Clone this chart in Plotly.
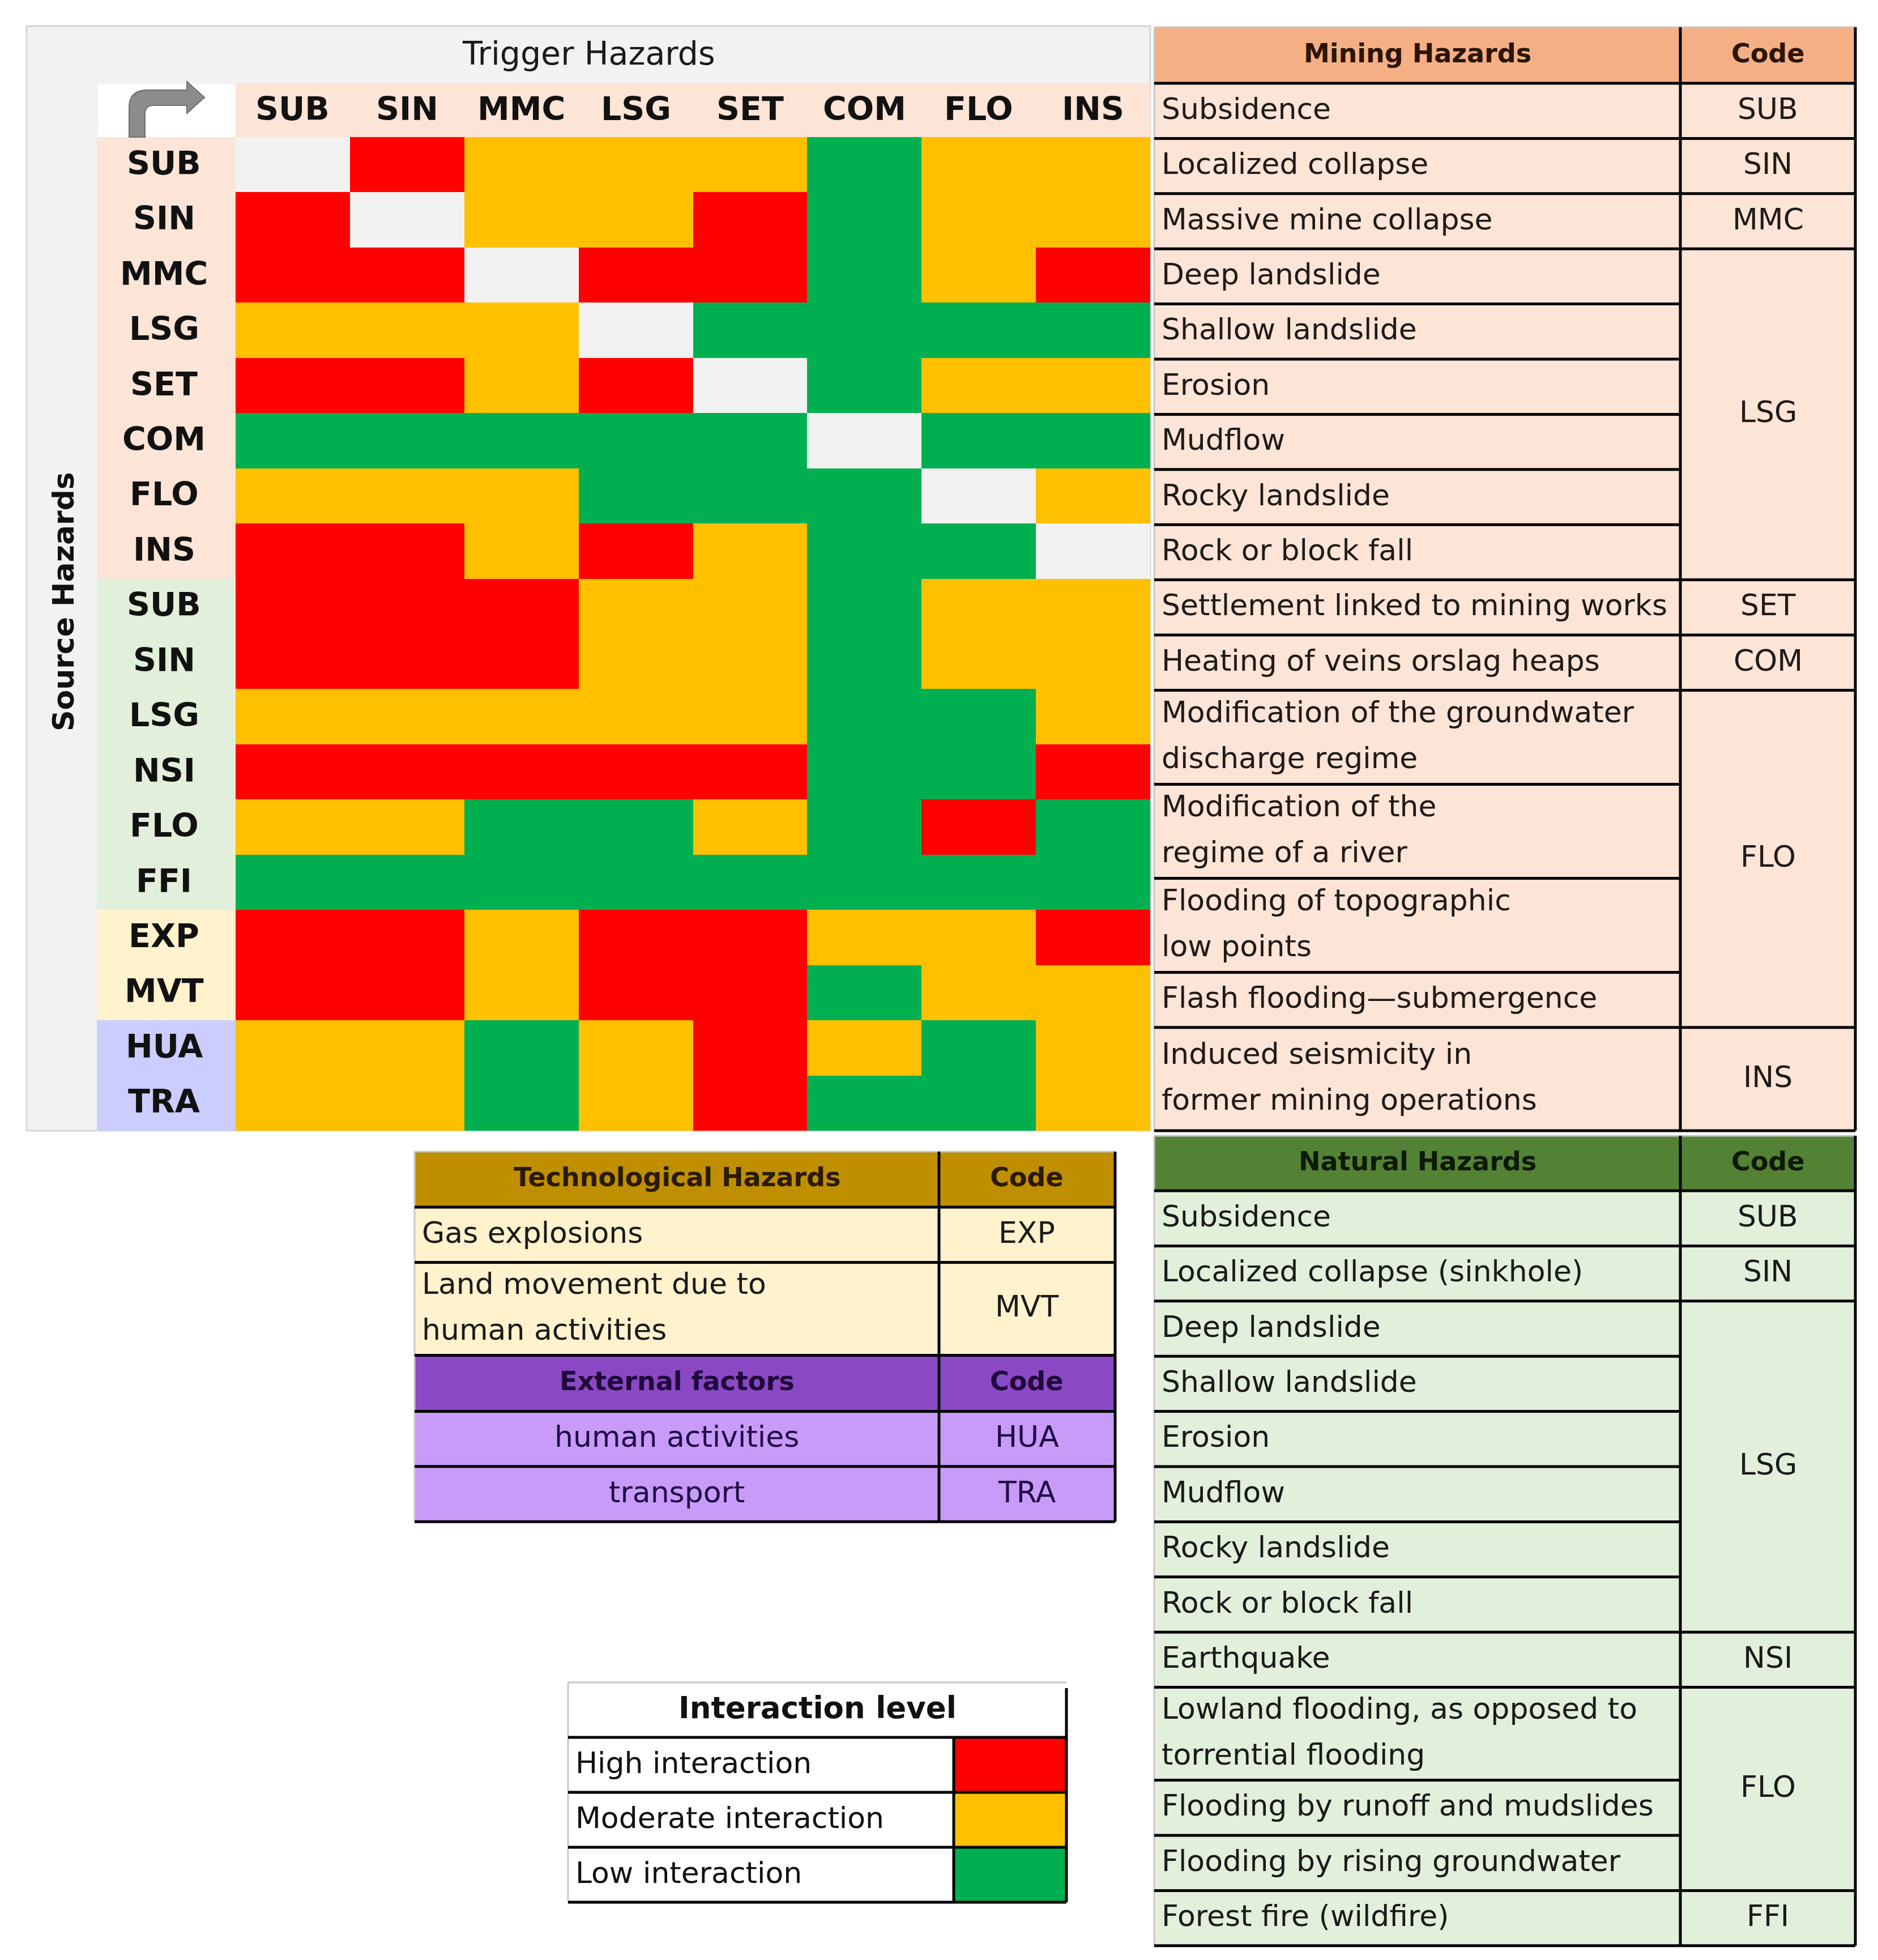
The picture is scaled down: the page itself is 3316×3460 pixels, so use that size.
import plotly.graph_objects as go

W, H = 3316, 3460
FONT = "DejaVu Sans"

# ---------------- data ----------------
trigger_codes = ["SUB", "SIN", "MMC", "LSG", "SET", "COM", "FLO", "INS"]

mining_sources = ["SUB", "SIN", "MMC", "LSG", "SET", "COM", "FLO", "INS"]
natural_sources = ["SUB", "SIN", "LSG", "NSI", "FLO", "FFI"]
technological_sources = ["EXP", "MVT"]
external_sources = ["HUA", "TRA"]

# 0 = same hazard (diagonal), 1 = low, 2 = moderate, 3 = high interaction
mining_levels = [
    [0, 3, 2, 2, 2, 1, 2, 2],
    [3, 0, 2, 2, 3, 1, 2, 2],
    [3, 3, 0, 3, 3, 1, 2, 3],
    [2, 2, 2, 0, 1, 1, 1, 1],
    [3, 3, 2, 3, 0, 1, 2, 2],
    [1, 1, 1, 1, 1, 0, 1, 1],
    [2, 2, 2, 1, 1, 1, 0, 2],
    [3, 3, 2, 3, 2, 1, 1, 0],
]
natural_levels = [
    [3, 3, 3, 2, 2, 1, 2, 2],
    [3, 3, 3, 2, 2, 1, 2, 2],
    [2, 2, 2, 2, 2, 1, 1, 2],
    [3, 3, 3, 3, 3, 1, 1, 3],
    [2, 2, 1, 1, 2, 1, 3, 1],
    [1, 1, 1, 1, 1, 1, 1, 1],
]
technological_levels = [
    [3, 3, 2, 3, 3, 2, 2, 3],
    [3, 3, 2, 3, 3, 1, 2, 2],
]
external_levels = [
    [2, 2, 1, 2, 3, 2, 1, 2],
    [2, 2, 1, 2, 3, 1, 1, 2],
]

level_colors = ["#F2F2F2", "#00B050", "#FFC000", "#FF0000"]
legend_labels = ["High interaction", "Moderate interaction", "Low interaction"]
legend_colors = ["#FF0000", "#FFC000", "#00B050"]

mining_hazards = [
    "Subsidence", "Localized collapse", "Massive mine collapse", "Deep landslide",
    "Shallow landslide", "Erosion", "Mudflow", "Rocky landslide", "Rock or block fall",
    "Settlement linked to mining works", "Heating of veins orslag heaps",
    "Modification of the groundwater\ndischarge regime",
    "Modification of the\nregime of a river",
    "Flooding of topographic\nlow points",
    "Flash flooding\u2014submergence",
    "Induced seismicity in\nformer mining operations",
]
mining_code_labels = ["SUB", "SIN", "MMC", "LSG", "SET", "COM", "FLO", "INS"]
mining_code_spans = [1, 1, 1, 6, 1, 1, 4, 1]

natural_hazards = [
    "Subsidence", "Localized collapse (sinkhole)", "Deep landslide", "Shallow landslide",
    "Erosion", "Mudflow", "Rocky landslide", "Rock or block fall", "Earthquake",
    "Lowland flooding, as opposed to\ntorrential flooding",
    "Flooding by runoff and mudslides", "Flooding by rising groundwater",
    "Forest fire (wildfire)",
]
natural_code_labels = ["SUB", "SIN", "LSG", "NSI", "FLO", "FFI"]
natural_code_spans = [1, 1, 6, 1, 3, 1]

technological_hazards = ["Gas explosions", "Land movement due to\nhuman activities"]
technological_code_labels = ["EXP", "MVT"]
technological_code_spans = [1, 1]

external_factors = ["human activities", "transport"]
external_code_labels = ["HUA", "TRA"]
external_code_spans = [1, 1]

source_groups = [mining_sources, natural_sources, technological_sources, external_sources]
group_band_colors = ["#FCE4D6", "#E2EFDA", "#FFF2CC", "#CCCCFF"]

# ---------------- helpers ----------------
def px(x):
    return x / W


def py(y):
    return 1 - y / H


fills, lights, darks, below = [], [], [], []
annotations = []
TEXT_LIFT = 4


def rect(lst, x0, y0, x1, y1, fill, layer="above"):
    lst.append(dict(type="rect", xref="paper", yref="paper",
                    x0=px(x0), x1=px(x1), y0=py(y1), y1=py(y0),
                    fillcolor=fill, line=dict(width=0), layer=layer))


def hline(lst, x0, x1, y, color="#000000", w=5):
    lst.append(dict(type="line", xref="paper", yref="paper",
                    x0=px(x0), x1=px(x1), y0=py(y), y1=py(y),
                    line=dict(color=color, width=w)))


def vline(lst, x, y0, y1, color="#000000", w=5):
    lst.append(dict(type="line", xref="paper", yref="paper",
                    x0=px(x), x1=px(x), y0=py(y0), y1=py(y1),
                    line=dict(color=color, width=w)))


def text(t, x, y, size, color="#1a1a1a", bold=False, anchor="center", angle=0):
    annotations.append(dict(text=t, xref="paper", yref="paper", x=px(x), y=py(y - TEXT_LIFT),
                            xanchor=anchor, yanchor="middle", showarrow=False,
                            textangle=angle,
                            font=dict(family=FONT, size=size, color=color,
                                      weight="bold" if bold else "normal")))


BODY = 52
HEAD = 46
LINE_GAP = 81
PAD = 11
LIGHT = "#C8C8C8"


def draw_table(x0, xd, x1, top, header_h, header_label, header_fill, header_color,
               names, code_labels, code_spans, body_fill, text_color,
               single_h, double_h, bottom=None, center_names=False, top_border=True):
    hb = top + header_h
    heights = [double_h if "\n" in nm else single_h for nm in names]
    bounds = [hb]
    for h in heights:
        bounds.append(bounds[-1] + h)
    if bottom is not None:
        bounds[-1] = bottom
    end = bounds[-1]
    rect(fills, x0, top, x1, hb, header_fill)
    rect(fills, x0, hb, x1, end, body_fill)
    text(header_label, (x0 + xd) / 2, (top + hb) / 2, HEAD, header_color, True)
    text("Code", (xd + x1) / 2, (top + hb) / 2, HEAD, header_color, True)
    for i, nm in enumerate(names):
        yc = (bounds[i] + bounds[i + 1]) / 2
        lines = nm.split("\n")
        for k, ln in enumerate(lines):
            yy = yc + (k - (len(lines) - 1) / 2) * LINE_GAP
            if center_names:
                text(ln, (x0 + xd) / 2, yy, BODY, text_color)
            else:
                text(ln, x0 + PAD, yy, BODY, text_color, anchor="left")
    for b in bounds[1:-1]:
        hline(darks, x0, xd, b)
    r = 0
    for lab, span in zip(code_labels, code_spans):
        ya, yb = bounds[r], bounds[r + span]
        text(lab, (xd + x1) / 2, (ya + yb) / 2, BODY, text_color)
        if r + span < len(names):
            hline(darks, xd, x1, yb)
        r += span
    vline(lights, x0, top, end, LIGHT, 3)
    if top_border:
        hline(lights, x0, x1, top, LIGHT, 3)
    hline(darks, x0, x1, hb)
    hline(darks, x0, x1, end)
    vline(darks, xd, top, end)
    vline(darks, x1, top, end)
    return end


# ---------------- matrix panel ----------------
PANEL = (39, 38, 2023, 1988)
HX0, HX1, HY0, HY1 = 408, 2023, 234, 1988
LABEL_X0 = 163
HEADER_Y0 = 138

rect(below, *PANEL, "#F2F2F2", layer="below")
below[-1]["line"] = dict(color="#D6D6D6", width=3)

z = mining_levels + natural_levels + technological_levels + external_levels
source_codes = mining_sources + natural_sources + technological_sources + external_sources
row_idx = list(range(len(source_codes)))

n_lv = len(level_colors)
colorscale = []
for i, c in enumerate(level_colors):
    colorscale.append([i / n_lv, c])
    colorscale.append([(i + 1) / n_lv, c])

fig = go.Figure()
fig.add_trace(go.Heatmap(
    z=z, x=trigger_codes, y=row_idx, colorscale=colorscale,
    zmin=-0.5, zmax=n_lv - 0.5, showscale=False, xaxis="x2", yaxis="y2",
    hoverinfo="skip",
))

# column header band and arrow box
below.append(dict(type="rect", xref="x2", yref="paper", x0=-0.5, x1=len(trigger_codes) - 0.5,
                  y0=py(HY0), y1=py(HEADER_Y0), fillcolor="#FCE4D6", line=dict(width=0),
                  layer="below"))
rect(below, LABEL_X0 + 2, 141, HX0, HY0, "#FFFFFF", layer="below")

# row label bands per group
start = 0
for grp, col in zip(source_groups, group_band_colors):
    below.append(dict(type="rect", xref="paper", yref="y2", x0=px(LABEL_X0), x1=px(HX0),
                      y0=start - 0.5, y1=start + len(grp) - 0.5, fillcolor=col,
                      line=dict(width=0), layer="below"))
    start += len(grp)

# arrow icon
arrow_pts = [("M", 220, 234), ("L", 220, 182), ("Q", 220, 151, 252, 151), ("L", 322, 151),
             ("L", 322, 136), ("L", 353, 164), ("L", 322, 192), ("L", 322, 178),
             ("L", 263, 178), ("Q", 248, 178, 248, 193), ("L", 248, 234)]
path = ""
for seg in arrow_pts:
    cmd = seg[0]
    coords = seg[1:]
    pts = []
    for j in range(0, len(coords), 2):
        pts.append(f"{px(coords[j]):.5f},{py(coords[j + 1]):.5f}")
    path += cmd + " " + " ".join(pts) + " "
path += "Z"
darks.append(dict(type="path", xref="paper", yref="paper", path=path,
                  fillcolor="#8C8C8C", line=dict(color="#6E6E6E", width=2)))

# headers / labels
text("Trigger Hazards", (PANEL[0] + PANEL[2]) / 2, 90, 57, "#1a1a1a")
text("Source Hazards", 104, 1058, 52, "#111111", True, angle=-90)
for c in trigger_codes:
    annotations.append(dict(text=c, xref="x2", yref="paper", x=c, y=py(184),
                            xanchor="center", yanchor="middle", showarrow=False,
                            font=dict(family=FONT, size=57, color="#111111", weight="bold")))
for i, c in enumerate(source_codes):
    annotations.append(dict(text=c, xref="paper", yref="y2", x=px((LABEL_X0 + HX0) / 2 - 4), y=i,
                            yshift=3, xanchor="center", yanchor="middle", showarrow=False,
                            font=dict(family=FONT, size=57, color="#111111", weight="bold")))

# ---------------- tables ----------------
SINGLE = 97.4
draw_table(2030, 2959, 3268, 40, 99, "Mining Hazards", "#F4B084", "#2B1406",
           mining_hazards, mining_code_labels, mining_code_spans, "#FCE4D6", "#1f1a17",
           SINGLE, 166, bottom=HY1)
draw_table(2030, 2959, 3268, 1997, 97, "Natural Hazards", "#548235", "#0E1A08",
           natural_hazards, natural_code_labels, natural_code_spans, "#E2EFDA", "#1a1a1a",
           SINGLE, 164)
tech_end = draw_table(724, 1650, 1961, 2025, 98, "Technological Hazards", "#BF8F00", "#2A1A00",
                      technological_hazards, technological_code_labels,
                      technological_code_spans, "#FFF2CC", "#1a1a1a", SINGLE, 164)
draw_table(724, 1650, 1961, tech_end, 99, "External factors", "#8B48C5", "#1E0A3A",
           external_factors, external_code_labels, external_code_spans, "#C99BF8", "#1E0B45",
           SINGLE, 164, center_names=True, top_border=False)

# ---------------- legend table ----------------
LX0, LXD, LX1, LTOP = 995, 1676, 1875, 2962
L_HEAD, L_ROW = 97, 97
lhb = LTOP + L_HEAD
lend = lhb + L_ROW * len(legend_labels)
rect(fills, LX0, LTOP, LX1, lend, "#FFFFFF")
text("Interaction level", (LX0 + LX1) / 2, (LTOP + lhb) / 2, 53, "#111111", True)
for i, (lab, col) in enumerate(zip(legend_labels, legend_colors)):
    ya = lhb + i * L_ROW
    yb = ya + L_ROW
    rect(fills, LXD, ya, LX1, yb, col)
    text(lab, LX0 + PAD, (ya + yb) / 2, BODY, "#111111", anchor="left")
    hline(darks, LX0, LX1, yb)
vline(lights, LX0, LTOP, lend, LIGHT, 3)
hline(lights, LX0, LX1, LTOP, LIGHT, 3)
hline(darks, LX0, LX1, lhb)
vline(darks, LXD, lhb, lend)
vline(darks, LX1, LTOP + 10, lend)

fig.update_layout(
    width=W, height=H,
    margin=dict(l=0, r=0, t=0, b=0, pad=0),
    paper_bgcolor="#FFFFFF", plot_bgcolor="rgba(0,0,0,0)",
    showlegend=False,
    xaxis=dict(visible=False), yaxis=dict(visible=False),
    xaxis2=dict(domain=[px(HX0), px(HX1)], range=[-0.5, len(trigger_codes) - 0.5],
                type="category", visible=False, anchor="y2", fixedrange=True),
    yaxis2=dict(domain=[py(HY1), py(HY0)], range=[len(source_codes) - 0.5, -0.5],
                visible=False, anchor="x2", fixedrange=True),
    shapes=below + fills + lights + darks,
    annotations=annotations,
)

fig.write_html("out.html")
